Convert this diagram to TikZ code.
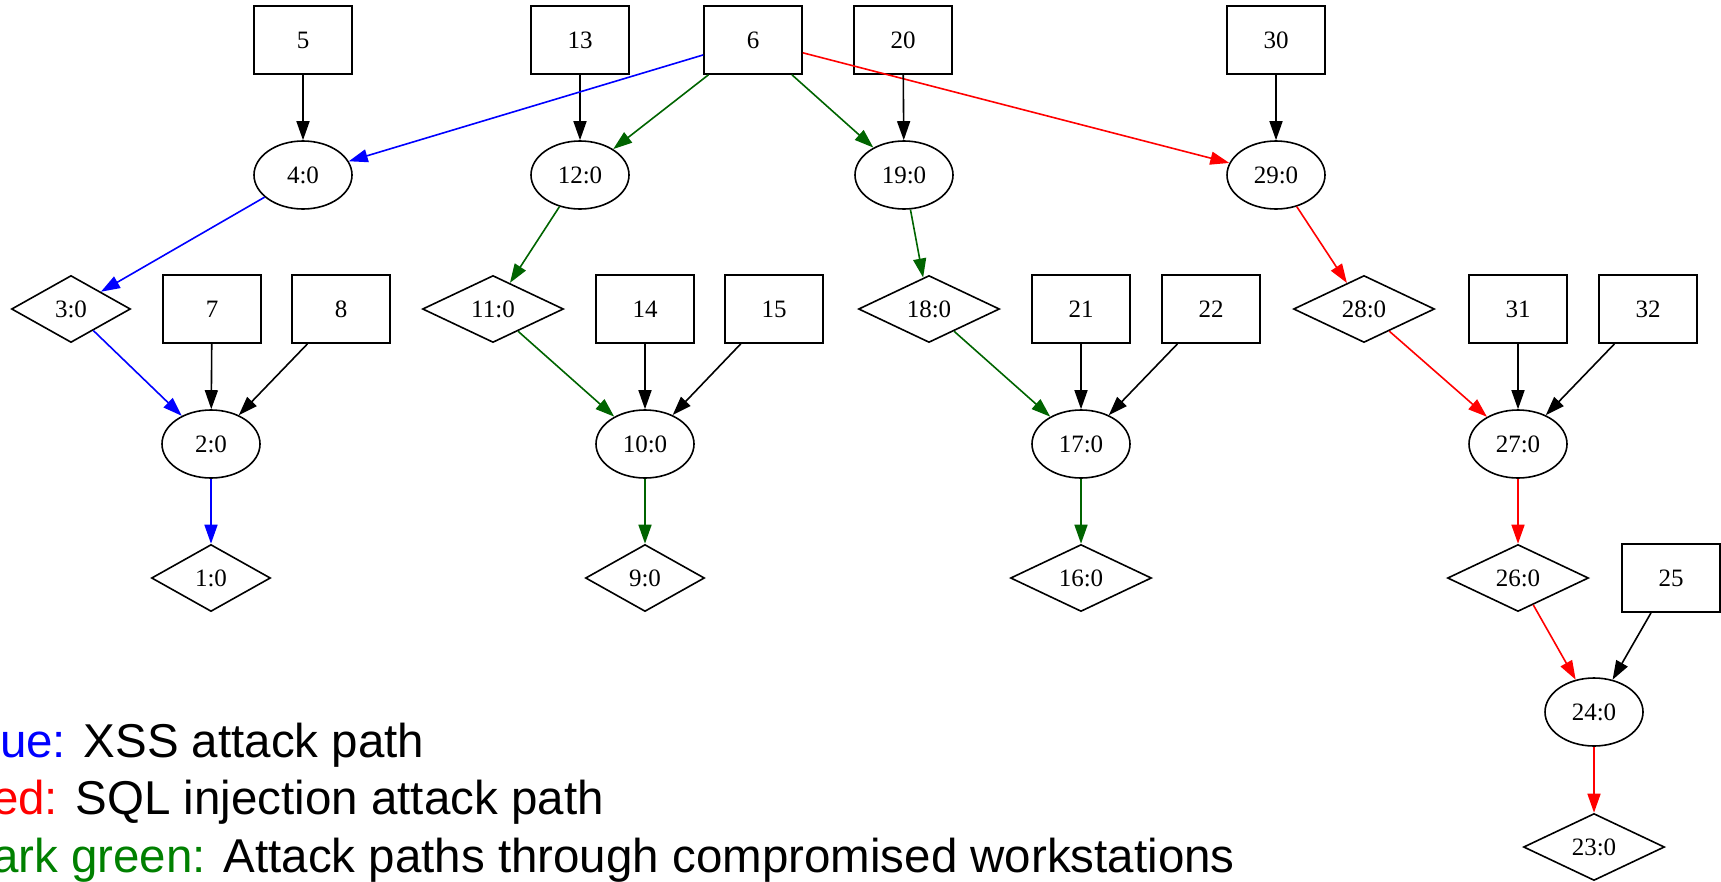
\documentclass[tikz,border=0pt]{standalone}
\usepackage{fontspec}
\setmainfont{Liberation Serif}
\newfontfamily\legendfont{Liberation Sans}
\usetikzlibrary{shapes.geometric,arrows.meta}
\definecolor{edgegreen}{RGB}{0,100,0}
\definecolor{legendgreen}{RGB}{0,128,0}
\definecolor{pureblue}{RGB}{0,0,255}
\definecolor{purered}{RGB}{255,0,0}
\begin{document}
\begin{tikzpicture}[x=1pt,y=-1pt,
  every node/.style={font=\fontsize{25}{30}\selectfont, line width=1.6pt},
  box/.style={draw, rectangle, minimum width=98pt, minimum height=68pt, inner sep=0pt},
  oval/.style={draw, ellipse, minimum width=98pt, minimum height=68pt, inner sep=0pt},
  dia/.style={draw, diamond, minimum width=119pt, minimum height=67pt, inner sep=0pt},
  wdia/.style={dia, minimum width=141pt},
  conn/.style={line width=1.6pt, -{Triangle[length=19pt,width=13pt]}},
  bl/.style={conn, draw=pureblue, fill=pureblue},
  rd/.style={conn, draw=purered, fill=purered},
  gr/.style={conn, draw=edgegreen, fill=edgegreen},
  bk/.style={conn, draw=black, fill=black},
  legend/.style={anchor=base west, inner sep=0pt, font=\legendfont\fontsize{47.5}{57}\selectfont}
]
\useasboundingbox (0,0) rectangle (1721,881);
\clip (0,0) rectangle (1721,881);

% top row
\node[box] (n5)  at (303,40) {5};
\node[box] (n13) at (580,40) {13};
\node[box] (n6)  at (753,40) {6};
\node[box] (n20) at (903,40) {20};
\node[box] (n30) at (1276,40) {30};

% ellipses row 2
\node[oval] (e4)  at (303,175) {4:0};
\node[oval] (e12) at (580,175) {12:0};
\node[oval] (e19) at (904,175) {19:0};
\node[oval] (e29) at (1276,175) {29:0};

% row 3
\node[dia]  (d3)  at (71,309) {3:0};
\node[box]  (n7)  at (212,309) {7};
\node[box]  (n8)  at (341,309) {8};
\node[wdia] (d11) at (493,309) {11:0};
\node[box]  (n14) at (645,309) {14};
\node[box]  (n15) at (774,309) {15};
\node[wdia] (d18) at (929,309) {18:0};
\node[box]  (n21) at (1081,309) {21};
\node[box]  (n22) at (1211,309) {22};
\node[wdia] (d28) at (1364,309) {28:0};
\node[box]  (n31) at (1518,309) {31};
\node[box]  (n32) at (1648,309) {32};

% row 4
\node[oval] (e2)  at (211,444) {2:0};
\node[oval] (e10) at (645,444) {10:0};
\node[oval] (e17) at (1081,444) {17:0};
\node[oval] (e27) at (1518,444) {27:0};

% row 5
\node[dia]  (d1)  at (211,578) {1:0};
\node[dia]  (d9)  at (645,578) {9:0};
\node[wdia] (d16) at (1081,578) {16:0};
\node[wdia] (d26) at (1518,578) {26:0};
\node[box]  (n25) at (1671,578) {25};

% rows 6,7
\node[oval] (e24) at (1594,712) {24:0};
\node[wdia] (d23) at (1594,847) {23:0};

% edges
\draw[bk] (n5) -- (e4);
\draw[bk] (n13) -- (e12);
\draw[bl] (n6) -- (e4);
\draw[gr] (n6) -- (e12);
\draw[gr] (n6) -- (e19);
\draw[rd] (n6) -- (e29);
\draw[bk] (n20) -- (e19);
\draw[bk] (n30) -- (e29);

\draw[bl] (e4) -- (d3);
\draw[gr] (e12) -- (d11);
\draw[gr] (e19) -- (d18);
\draw[rd] (e29) -- (d28);

\draw[bl] (d3) -- (e2);
\draw[bk] (n7) -- (e2);
\draw[bk] (n8) -- (e2);
\draw[gr] (d11) -- (e10);
\draw[bk] (n14) -- (e10);
\draw[bk] (n15) -- (e10);
\draw[gr] (d18) -- (e17);
\draw[bk] (n21) -- (e17);
\draw[bk] (n22) -- (e17);
\draw[rd] (d28) -- (e27);
\draw[bk] (n31) -- (e27);
\draw[bk] (n32) -- (e27);

\draw[bl] (e2) -- (d1);
\draw[gr] (e10) -- (d9);
\draw[gr] (e17) -- (d16);
\draw[rd] (e27) -- (d26);

\draw[rd] (d26) -- (e24);
\draw[bk] (n25) -- (e24);
\draw[rd] (e24) -- (d23);

% legend
\node[legend] (leg1) at (-43,757) {\textcolor{pureblue}{Blue:} XSS attack path};
\node[legend] (leg2) at (-43,814) {\textcolor{purered}{Red:} SQL injection attack path};
\node[legend] (leg3) at (-43,872) {\textcolor{legendgreen}{Dark green:} Attack paths through compromised workstations};
\end{tikzpicture}
\end{document}
